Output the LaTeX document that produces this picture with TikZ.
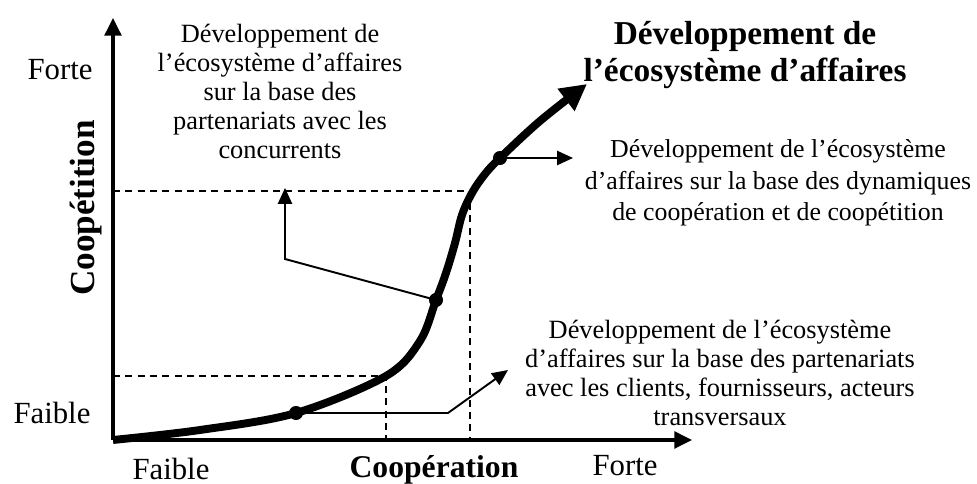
\documentclass[tikz,border=0pt]{standalone}
\usepackage{fontspec}
\setmainfont{Liberation Serif}
\usetikzlibrary{arrows.meta}
\tikzset{
	axe/.style={line width=1.8pt, -{Triangle[length=10pt,width=9.5pt]}},
	guide/.style={line width=0.8pt, dash pattern=on 4pt off 3pt},
	renvoi/.style={line width=1.1pt, -{Triangle[length=9pt,width=8pt]}},
	pt/.style={circle, fill, inner sep=0pt, minimum size=8pt},
	lib/.style={align=center, inner sep=1pt, font=\fontsize{15}{16.5}\selectfont},
	echelle/.style={inner sep=1pt, font=\fontsize{17.5}{20}\selectfont},
}

\begin{document}
\begin{tikzpicture}
	\useasboundingbox (-2.26,-0.88) rectangle (17.28,8.8);
	\coordinate (o) at (0,0);
	\coordinate (ymax) at (0,8.44);
	\coordinate (xmax) at (11.58,0);
	\draw[axe] (o) -- (ymax);
	\draw[axe] (o) -- (xmax);
	% reperes en pointilles
	\coordinate (ha) at (0,4.98);
	\coordinate (hb) at (7.14,4.98);
	\coordinate (hc) at (7.14,0);
	\coordinate (ba) at (0,1.28);
	\coordinate (bb) at (5.46,1.28);
	\coordinate (bc) at (5.46,0);
	\draw[guide] (ha) -- (hb) -- (hc);
	\draw[guide] (ba) -- (bb) -- (bc);
	% courbe
	\draw[line width=4.5pt, -{Triangle[length=15pt,width=15pt]}] plot[smooth, tension=0.55] coordinates {(0,0) (1.74,0.2) (3.66,0.54) (5.46,1.28) (6.14,1.98) (6.46,2.8) (6.66,3.34) (6.84,3.94) (6.98,4.5) (7.18,4.94) (7.44,5.32) (7.74,5.64) (8.54,6.38) (9.48,7.12)};
	\node[pt] (p1) at (3.66,0.54) {};
	\node[pt] (p2) at (6.46,2.8) {};
	\node[pt] (p3) at (7.74,5.64) {};
	% renvois
	\coordinate (c1) at (3.44,3.62);
	\coordinate (f1) at (3.44,5.04);
	\coordinate (c2) at (6.7,0.54);
	\coordinate (f2) at (7.9,1.4);
	\coordinate (f3) at (9.2,5.64);
	\draw[renvoi] (p2.center) -- (c1) -- (f1);
	\draw[renvoi] (p1.center) -- (c2) -- (f2);
	\draw[renvoi] (p3.center) -- (f3);
	% textes
	\node[lib] (t1) at (3.34,6.98) {Développement de\\l’écosystème d’affaires\\sur la base des\\partenariats avec les\\concurrents};
	\node[align=center, font=\fontsize{19}{21.5}\selectfont\bfseries] (t0) at (12.64,7.7) {Développement de\\l’écosystème d’affaires};
	\node[lib, font=\fontsize{14.7}{18}\selectfont] (t3) at (13.3,5.14) {Développement de l’écosystème\\d’affaires sur la base des dynamiques\\de coopération et de coopétition};
	\node[lib] (t2) at (12.14,1.34) {Développement de l’écosystème\\d’affaires sur la base des partenariats\\avec les clients, fournisseurs, acteurs\\transversaux};
	\node[echelle] (yf) at (-1.06,7.4) {Forte};
	\node[echelle] (yb) at (-1.22,0.54) {Faible};
	\node[echelle, font=\fontsize{20}{22}\selectfont\bfseries, rotate=90] (yl) at (-0.54,4.64) {Coopétition};
	\node[echelle] (xb) at (1.16,-0.58) {Faible};
	\node[echelle, font=\fontsize{18}{20}\selectfont\bfseries] (xl) at (6.42,-0.6) {Coopération};
	\node[echelle] (xf) at (10.24,-0.52) {Forte};
\end{tikzpicture}
\end{document}
